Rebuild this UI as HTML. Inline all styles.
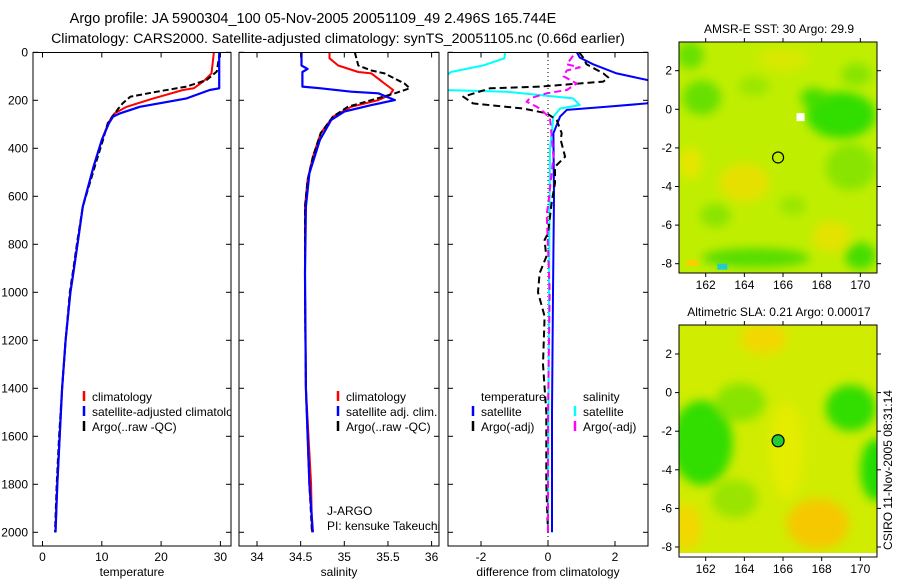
<!DOCTYPE html>
<html><head><meta charset="utf-8">
<style>
html,body{margin:0;padding:0;background:#fff;}
svg{display:block;font-family:"Liberation Sans",sans-serif;}
text{font-size:12px;fill:#000;}
</style></head>
<body>
<svg id="fig" width="900" height="580" viewBox="0 0 900 580">
<defs>
<clipPath id="c1"><rect x="33" y="52" width="198" height="494"/></clipPath>
<clipPath id="c2"><rect x="239" y="52" width="200" height="494"/></clipPath>
<clipPath id="c3"><rect x="448" y="52" width="200" height="494"/></clipPath>
<clipPath id="m1"><rect x="679" y="42" width="198" height="231"/></clipPath>
<clipPath id="m2"><rect x="679" y="325" width="198" height="232"/></clipPath>
<filter id="blur" x="-20%" y="-20%" width="140%" height="140%"><feGaussianBlur stdDeviation="5"/></filter>
</defs>
<text x="313" y="23" text-anchor="middle" style="font-size:14.5px">Argo profile: JA 5900304_100 05-Nov-2005 20051109_49 2.496S 165.744E</text>
<text x="338" y="43" text-anchor="middle" style="font-size:14.2px">Climatology: CARS2000. Satellite-adjusted climatology: synTS_20051105.nc (0.66d earlier)</text>
<g id="g1"></g>
<g id="g2"></g>
<g id="g3"></g>
<g id="gm1"></g>
<g id="gm2"></g>
<text transform="translate(892,470) rotate(-90)" text-anchor="middle">CSIRO 11-Nov-2005 08:31:14</text>
</svg>
<script>
// depth axis
const depthTicks = [0,200,400,600,800,1000,1200,1400,1600,1800,2000];
// temperature panel data
const tDepth = [0,88,122,150,157,192,227,254,268,296,365,477,643,782,921,1000,1200,1400,1600,1800,2000];
const tClim = [28.9,28.5,27.1,25.5,23.7,18.7,14.2,12.2,11.7,11.1,10.0,8.6,6.8,6.0,5.2,4.7,3.9,3.3,2.9,2.5,2.2];
const tSat  = [29.8,29.8,29.8,29.8,28.2,24.3,16.4,13.1,11.9,11.2,10.0,8.6,6.8,6.0,5.2,4.7,3.9,3.3,2.9,2.5,2.2];
const tArgoDepth = [0,80,115,143,164,185,213,234,296,365,477,643,782,921,1000,1200,1400,1600,1800,2000];
const tArgo = [29.9,29.4,27.7,24.3,19.3,14.8,13.5,12.8,11.0,10.2,8.8,6.8,5.9,5.1,4.6,3.9,3.3,2.8,2.4,2.1];
const tTicks = [0,10,20,30];
// salinity panel data
const sClimDepth = [0,25,55,82,88,130,157,178,199,227,268,337,435,532,643,1000,1400,1800,2000];
const sClim = [34.83,34.83,34.93,35.16,35.31,35.46,35.56,35.52,35.39,35.08,34.87,34.73,34.64,34.58,34.55,34.55,34.56,34.62,34.63];
const sSatDepth = [0,55,69,82,143,150,164,171,199,220,247,282,365,504,643,921,1400,1800,2000];
const sSat = [34.51,34.51,34.58,34.52,34.52,34.73,35.08,35.39,35.58,35.31,35.0,34.85,34.72,34.6,34.56,34.55,34.56,34.6,34.64];
const sArgoDepth = [0,55,76,88,130,150,171,199,227,268,337,435,532,643,1000,1400,1800,2000];
const sArgo = [35.12,35.16,35.31,35.46,35.69,35.75,35.58,35.31,35.04,34.87,34.73,34.64,34.58,34.55,34.55,34.56,34.6,34.63];
const sTicks = [34,34.5,35,35.5,36];
// difference panel data
const dTSatDepth = [0,22,50,88,115,150,213,227,240,268,337,600,1000,1500,2000];
const dTSat = [0.86,0.95,1.35,2.05,2.95,3.8,2.95,1.75,0.56,0.36,0.16,0.18,0.15,0.12,0.12];
const dSSatDepth = [0,25,55,82,130,157,164,192,220,234,268,400,1000,2000];
const dSSat = [-1.28,-1.3,-1.94,-2.9,-3.3,-3.1,-1.23,0.75,0.95,0.36,0.16,0.06,0.03,0.0];
const dTArgoDepth = [0,22,50,88,105,122,143,150,185,213,234,254,282,337,365,435,477,546,615,754,782,852,921,1000,1100,1300,1500,1800,2000];
const dTArgo = [0.93,1.05,1.15,1.65,1.8,1.65,-0.24,-1.73,-2.53,-2.24,-0.75,-0.04,0.26,0.41,0.38,0.51,0.21,0.21,0.12,0.0,-0.1,-0.05,-0.25,-0.3,-0.1,-0.15,-0.05,-0.05,0.0];
const dSArgoDepth = [14,50,63,76,100,130,157,171,192,206,227,247,275,365,435,643,671,1000,1500,2000];
const dSArgo = [0.75,0.56,0.95,0.56,0.46,0.86,0.56,-0.04,-0.54,-0.64,-0.33,-0.14,0.06,0.12,0.16,0.0,-0.04,0.05,0.0,0.0];
const dTicks = [-2,0,2];
// map axes
const lonTicks = [162,164,166,168,170];
const latTicks = [2,0,-2,-4,-6,-8];
const floatLon = 165.744, floatLat = -2.496;

const NS='http://www.w3.org/2000/svg';
function mk(tag, attrs, parent){const e=document.createElementNS(NS,tag);for(const k in attrs)e.setAttribute(k,attrs[k]);parent.appendChild(e);return e;}
const yD = d => 52.3 + d*0.24;

function panel(gid, x0, x1, xs, ticks, fmt, showY, clip, label){
  const g=document.getElementById(gid);
  const lg=mk('g',{'clip-path':'url(#'+clip+')'},g);
  for(const d of depthTicks){
    const y=yD(d);
    const a=mk('line',{x1:x0,y1:y,x2:x0+5,y2:y,stroke:'#000'},g);
    
    
    mk('line',{x1:x1,y1:y,x2:x1-5,y2:y,stroke:'#000'},g);
    if(showY){
      const t=mk('text',{x:x0-5,y:y+4,'text-anchor':'end'},g);t.textContent=d;
      
      
    }
  }
  for(const v of ticks){
    const x=xs(v);
    mk('line',{x1:x,y1:52.5,x2:x,y2:57.5,stroke:'#000'},g);
    mk('line',{x1:x,y1:546,x2:x,y2:541,stroke:'#000'},g);
    const t=mk('text',{x:x,y:561,'text-anchor':'middle'},g);t.textContent=fmt(v);
    
    
  }
  const xl=mk('text',{x:(x0+x1)/2,y:576,'text-anchor':'middle'},g);xl.textContent=label;
  
  
  const fr=mk('rect',{x:x0,y:52.5,width:x1-x0,height:493.5,fill:'none',stroke:'#000'},g);
  
  
  return lg;
}
function line(g, xs, vals, depths, color, dash, name, w){
  const pts=vals.map((v,i)=>xs(v).toFixed(1)+','+yD(depths[i]).toFixed(1)).join(' ');
  const p=mk('polyline',{points:pts,fill:'none',stroke:color,'stroke-width':w||2,'stroke-linejoin':'round'},g);
  if(dash)p.setAttribute('stroke-dasharray',dash);
  
  
}
function legend(g, x, y, color, txt){
  mk('line',{x1:x,y1:y-6,x2:x,y2:y+4,stroke:color,'stroke-width':2.5},g);
  const t=mk('text',{x:x+8,y:y+4},g);t.textContent=txt;
  
  
}

// Panel 1
const xT = t => 42.5 + t*5.93;
const l1=panel('g1',33,231,xT,tTicks,v=>v,true,'c1','temperature');
line(l1,xT,tClim,tDepth,'#f00',null,'climatology-temperature-line');
line(l1,xT,tArgo,tArgoDepth,'#000','6,3','argo-temperature-line');
line(l1,xT,tSat,tDepth,'#00f',null,'satellite-temperature-line',2.2);
legend(l1,84,397,'#f00','climatology');
legend(l1,84,412,'#00f','satellite-adjusted climatology');
legend(l1,84,427,'#000','Argo(..raw -QC)');

// Panel 2
const xS = s => 257 + (s-34)*87.3;
const l2=panel('g2',239,439,xS,sTicks,v=>v,false,'c2','salinity');
line(l2,xS,sClim,sClimDepth,'#f00',null,'climatology-salinity-line');
line(l2,xS,sArgo,sArgoDepth,'#000','6,3','argo-salinity-line');
line(l2,xS,sSat,sSatDepth,'#00f',null,'satellite-salinity-line',2.2);
legend(l2,338,397,'#f00','climatology');
legend(l2,338,412,'#00f','satellite adj. clim.');
legend(l2,338,427,'#000','Argo(..raw -QC)');
const g2=document.getElementById('g2');
const ja=mk('text',{x:327,y:515},g2);ja.textContent='J-ARGO';


const pi=mk('text',{x:327,y:530},g2);pi.textContent='PI: kensuke Takeuchi';



// Panel 3
const xDf = v => 548 + v*33.5;
const l3=panel('g3',448,648,xDf,dTicks,v=>v,false,'c3','difference from climatology');
const zl=mk('line',{x1:548,y1:52,x2:548,y2:546,stroke:'#000','stroke-dasharray':'1,3'},l3);


line(l3,xDf,dTSat,dTSatDepth,'#00f',null,'satellite-temperature-diff-line');
line(l3,xDf,dSSat,dSSatDepth,'#0ff',null,'satellite-salinity-diff-line');
line(l3,xDf,dTArgo,dTArgoDepth,'#000','7,4','argo-temperature-diff-line');
line(l3,xDf,dSArgo,dSArgoDepth,'#f0f','7,4','argo-salinity-diff-line');
const g3=document.getElementById('g3');
let tt=mk('text',{x:481,y:401},g3);tt.textContent='temperature';


tt=mk('text',{x:583,y:401},g3);tt.textContent='salinity';


legend(g3,473,412,'#00f','satellite');
legend(g3,473,427,'#000','Argo(-adj)');
legend(g3,575,412,'#0ff','satellite');
legend(g3,575,427,'#f0f','Argo(-adj)');

// Maps
const xL = lon => 705.7 + (lon-162)*19.33;
function mapAxes(gid, top, bot, lat2y, clip, title, blobs, base, filled){
  const g=document.getElementById(gid);
  const yl = lat => lat2y + (2-lat)*19.3;
  const tt=mk('text',{x:779,y:top-9,'text-anchor':'middle'},g);tt.textContent=title;
  
  
  const img=mk('g',{'clip-path':'url(#'+clip+')'},g);
  mk('rect',{x:679,y:top,width:198,height:bot-top,fill:base},img);
  const bl=mk('g',{filter:'url(#blur)'},img);
  for(const b of blobs){
    const e=mk('ellipse',{cx:xL(b[0]),cy:yl(b[1]),rx:b[2]*19.3,ry:b[3]*19.3,fill:b[4]},bl);
    
    
  }
  for(const v of lonTicks){
    const x=xL(v);
    mk('line',{x1:x,y1:top,x2:x,y2:top-4,stroke:'#000'},g);
    mk('line',{x1:x,y1:bot,x2:x,y2:bot+4,stroke:'#000'},g);
    const t=mk('text',{x:x,y:bot+16,'text-anchor':'middle'},g);t.textContent=v;
    
    
  }
  for(const v of latTicks){
    const y=yl(v);
    mk('line',{x1:679,y1:y,x2:675,y2:y,stroke:'#000'},g);
    mk('line',{x1:877,y1:y,x2:881,y2:y,stroke:'#000'},g);
    const t=mk('text',{x:672,y:y+4,'text-anchor':'end'},g);t.textContent=v;
    
    
  }
  const fr=mk('rect',{x:679,y:top,width:198,height:bot-top,fill:'none',stroke:'#000'},g);
  
  
  const c=mk('circle',{cx:xL(floatLon),cy:yl(floatLat),r:filled?6:5.5,fill:filled?'#22cc33':'none',stroke:'#000','stroke-width':1.2},g);
  
  
  return {img,yl};
}
const sstBlobs=[[169,-0.3,1.8,1.2,'#33dd00'],[167.6,0.6,0.7,0.5,'#44dd00'],[161.8,0.6,1,0.9,'#66e000'],[161.2,2.8,0.7,0.7,'#66e000'],
 [164,-3.8,1.3,1,'#e6e000'],[161.2,-2.8,0.6,0.8,'#e6e600'],[168.5,-6.6,1,0.8,'#e4e200'],[164.6,-7.7,2.8,0.5,'#55dd00'],[170,-7.6,0.8,0.7,'#44dd00'],
 [166,2.6,1.3,0.6,'#d8e800'],[169.5,-3,1.3,1.2,'#88e400'],[164.5,1.2,0.8,0.5,'#99e600'],[162.5,-5.5,0.8,0.6,'#88e400'],[166.5,-5,0.7,0.5,'#99e600'],[169.8,1.8,0.8,0.6,'#88e400']];
const m1=mapAxes('gm1',42,273,70.7,'m1','AMSR-E SST: 30 Argo: 29.9',sstBlobs,'#c0ee00',false);
mk('rect',{x:xL(166.7),y:m1.yl(-0.2),width:8,height:8,fill:'#fff'},m1.img);
mk('rect',{x:xL(162.6),y:m1.yl(-8),width:10,height:6,fill:'#22cccc'},m1.img);
mk('rect',{x:xL(161),y:m1.yl(-7.8),width:12,height:6,fill:'#f8d000'},m1.img);
const slaBlobs=[[161.8,-2.6,1.6,2.2,'#33dd00'],[169.5,-0.8,1.3,1.2,'#33dd00'],[170.8,-4,0.8,1.6,'#22dd00'],[163.8,-0.5,1.3,1,'#88e400'],
 [167.8,-6.8,1.6,1.3,'#f6c800'],[165,2.8,1.2,0.8,'#f2d800'],[161,-7,0.8,1.2,'#f0d800'],[163.5,-5.5,1.2,1,'#99e400'],[166.2,-3,0.9,2.5,'#e4ec00']];
const m2=mapAxes('gm2',325,557,354,'m2','Altimetric SLA: 0.21 Argo: 0.00017',slaBlobs,'#d0ec00',true);
mk('rect',{x:679,y:553,width:198,height:4,fill:'#fff'},m2.img);
</script>
</body></html>
